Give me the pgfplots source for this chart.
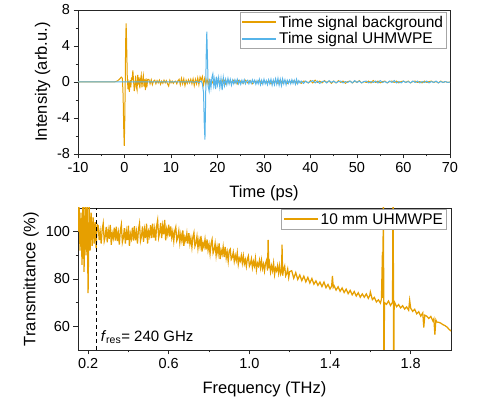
\documentclass[border=0pt]{standalone}
\usepackage{fontspec}
\setmainfont{Liberation Sans}
\usepackage{pgfplots}
\pgfplotsset{compat=1.18}
\definecolor{orng}{HTML}{E69F00}
\definecolor{skyb}{HTML}{56B4E9}
\pgfplotsset{
 mystyle/.style={
  scale only axis,
  axis line style={black!85, line width=0.8pt},
  tick align=outside,
  xtick pos=left, ytick pos=left,
  major tick length=4.5pt, minor tick length=2.5pt,
  tick style={black!85, line width=0.8pt},
  tick label style={font=\fontsize{14.5}{17}\selectfont},
  label style={font=\fontsize{16.5}{19}\selectfont},
  xlabel style={yshift=-6pt},
  legend style={font=\fontsize{15.5}{18}\selectfont, draw=black!35, line width=0.8pt, inner sep=1.5pt, cells={anchor=west}},
  legend image code/.code={\draw[##1,line width=1.7pt] (0pt,0.3pt) -- (34pt,0.3pt);},
  every axis plot/.append style={line width=1pt},
 }
}
\begin{document}
\begin{tikzpicture}
\path[use as bounding box] (0pt,0pt) rectangle (482pt,401pt);
% ---------------- top: time signals
\begin{axis}[mystyle,
  at={(78pt,247pt)}, anchor=south west,
  width=372pt, height=144pt,
  xmin=-10, xmax=70, ymin=-8, ymax=8,
  xtick={-10,0,10,20,30,40,50,60,70},
  xticklabels={-10,0,10,20,30,40,50,60,70},
  minor xtick={-5,5,15,25,35,45,55,65},
  ytick={-8,-4,0,4,8},
  yticklabels={-8,-4,0,4,8},
  minor ytick={-6,-2,2,6},
  xlabel={Time (ps)}, ylabel={Intensity (arb.u.)},
  legend style={at={(rel axis cs:0.992,0.986)}, anchor=north east},
]
\addplot[orng] coordinates {
(-10,0) (-3,0) (-2,0.03) (-1.5,0.12) (-1.0,0.35) (-0.7,0.55) (-0.45,0.4) (-0.3,-1.5) (-0.15,-5.5) (-0.05,-7.1) (0.05,-4.5) (0.15,-0.5) (0.25,4.5) (0.35,6.5) (0.45,4.5) (0.6,0.5) (0.75,-0.8) (0.9,-0.2) (1.05,-1.1) (1.2,0.2) (1.35,-0.6) (1.5,0.4) (1.65,0.3) (1.8,1.3) (1.95,0.1) (2.1,-1.0) (2.25,-0.4) (2.4,0.7) (2.55,-0.5) (2.7,-0.9) (2.85,0.8) (3.0,-0.3) (3.15,0.5) (3.3,-0.7) (3.45,0.3) (3.6,0.75) (3.75,-0.6) (3.9,0.2) (4.05,0.7) (4.2,-0.5) (4.35,0.3) (4.5,-0.9) (4.65,0.4) (4.8,-0.6) (5.0,0.3)
(5.25,0.3) (5.5,-0.2) (5.75,0.25) (6.0,-0.3) (6.25,0.1) (6.5,0.2) (6.75,-0.2) (7.0,0.15) (7.25,-0.1) (7.5,0.2) (7.75,-0.25) (8.0,0.1) (8.25,-0.15) (8.5,0.2) (8.75,-0.1) (9.0,0.15) (9.25,-0.2) (9.5,-0.45) (9.75,0.2) (10.0,-0.1) (10.25,0.1) (10.5,-0.15) (10.75,0.05) (11.0,0.1) (11.25,-0.2) (11.5,0.15) (11.75,0.3) (12.0,-0.3) (12.25,0.4) (12.5,-0.2) (12.75,0.35) (13.0,-0.4) (13.25,0.2) (13.5,-0.15) (13.75,0.25) (14.0,-0.1) (14.25,0.3) (14.5,-0.2) (14.75,0.35) (15.0,-0.4) (15.25,0.3) (15.5,-0.2) (15.75,0.45) (16.0,-0.3) (16.25,0.55) (16.5,0.2) (16.75,0.6) (17.0,-0.3) (17.25,0.4) (17.5,-0.2) (17.75,0.3) (18.0,-0.25) (18.25,0.2) (18.5,-0.3) (18.75,0.15) (19.0,-0.1) (19.25,0.2) (19.5,-0.15) (19.75,0.1) (20.0,-0.2) (20.25,0.15) (20.5,0.05) (20.75,-0.15) (21.0,0.2) (21.25,-0.1) (21.5,0.15) (21.75,-0.2) (22.0,0.1) (22.25,0.2) (22.5,-0.1) (22.75,0.15) (23.0,-0.15) (23.25,0.1) (23.5,0.2) (23.75,-0.1) (24.0,0.1) (24.25,-0.2) (24.5,0.15) (24.75,-0.05) (25.0,0.1)
(25.5,-0.15) (26,0.2) (26.5,-0.1) (27,0.15) (27.5,-0.2) (28,0.1) (28.5,-0.05) (29,0.2) (29.5,-0.15) (30,0.1) (30.5,-0.1) (31,0.15) (31.5,-0.2) (32,0.1) (32.5,0.05) (33,-0.15) (33.5,0.2) (34,-0.1) (34.5,0.15) (35,-0.15) (35.5,0.1) (36,-0.05) (36.5,0.15) (37,-0.1) (37.5,0.1) (38,-0.15) (38.5,0.1) (39,0.05) (39.5,-0.1) (40,0.15) (40.5,-0.1) (41,0.2) (41.5,-0.05) (42,0.1) (42.5,-0.1) (43,0.15) (43.5,-0.05) (44,0.1) (44.5,-0.15) (45,0.1)
(45.5,-0.1) (46,0.15) (46.5,-0.05) (47,0.1) (47.5,-0.15) (48,0.05) (48.5,0.1) (49,-0.1) (49.5,0.1) (50,-0.05) (50.5,0.15) (51,-0.1) (51.5,0.05) (52,-0.05) (52.5,0.1) (53,-0.1) (53.5,0.15) (54,-0.05) (54.5,0.1) (55,-0.1) (55.5,0.05) (56,0.1) (56.5,-0.1) (57,0.05) (57.5,0.1) (58,-0.05) (58.5,0.1) (59,-0.1) (59.5,0.05) (60,0.1) (60.5,-0.05) (61,0.1) (61.5,-0.1) (62,0.05) (62.5,0.1) (63,-0.05) (63.5,0.05) (64,-0.1) (64.5,0.1) (65,-0.05) (65.5,0.05) (66,0.1) (66.5,-0.05) (67,0.05) (67.5,-0.1) (68,0.1) (68.5,-0.05) (69,0.05) (69.5,-0.05) (70,0)
};
\addlegendentry{Time signal background}
\addplot[skyb] coordinates {
(-10,0) (14,0) (14.5,0.02) (15,-0.03) (15.5,0.05) (16,-0.05) (16.5,0.1) (16.75,-0.2) (17.0,-1.2) (17.15,-4.5) (17.3,-6.4) (17.45,-2) (17.55,2.5) (17.7,5.6) (17.85,2.5) (18.0,-0.5) (18.2,-1.0) (18.4,0.3) (18.6,-0.6) (18.8,0.5) (19.0,0.9) (19.2,-0.4) (19.4,0.3) (19.6,-0.8) (19.8,0.6) (20.0,-0.3) (20.25,0.5) (20.5,-0.6) (20.75,0.4) (21.0,-0.9) (21.25,0.5) (21.5,-0.4) (21.75,0.3) (22,-0.3) (22.25,0.4) (22.5,-0.2) (22.75,0.3) (23,-0.35) (23.25,0.2) (23.5,-0.2) (23.75,0.25) (24,-0.15) (24.25,0.3) (24.5,-0.2) (24.75,0.15) (25,-0.25) (25.25,0.2) (25.5,-0.15) (25.75,0.25) (26,-0.2) (26.25,0.1) (26.5,0.2) (26.75,-0.2) (27,0.15) (27.25,-0.15) (27.5,0.25) (27.75,-0.1) (28,0.2) (28.25,-0.25) (28.5,0.15) (28.75,-0.2) (29,0.3) (29.25,-0.3) (29.5,0.2) (29.75,-0.25) (30,0.3) (30.25,-0.2) (30.5,0.15) (30.75,-0.3) (31,0.25) (31.25,-0.2) (31.5,0.3) (31.75,-0.35) (32,0.2) (32.25,-0.3) (32.5,0.35) (32.75,-0.25) (33,0.4) (33.25,-0.35) (33.5,0.3) (33.75,-0.4) (34,0.35) (34.25,-0.2) (34.5,0.25) (34.75,-0.3) (35,0.2) (35.25,-0.15) (35.5,0.2) (35.75,-0.2) (36,0.25) (36.25,-0.15) (36.5,0.2) (36.75,-0.25) (37,0.3) (37.25,-0.2) (37.5,0.15) (37.75,-0.1) (38,0.1) (38.5,-0.15) (39,0.1) (39.5,-0.1) (40,0.05) (40.5,0.15) (41,-0.1) (41.5,0.1) (42,-0.15) (42.5,0.05) (43,0.1) (43.5,-0.1) (44,0.15) (44.5,-0.05) (45,0.1) (45.5,-0.1) (46,0.05) (46.5,0.1) (47,-0.1) (47.5,0.05) (48,-0.05) (48.5,0.1) (49,-0.1) (49.5,0.15) (50,-0.05) (50.5,0.1) (51,-0.1)
(51.5,0.05) (52,0.1) (52.5,-0.1) (53,0.05) (53.5,-0.05) (54,0.1) (54.5,-0.1) (55,0.15) (55.5,-0.05) (56,0.05) (56.5,-0.1) (57,0.1) (57.5,-0.05) (58,0.15) (58.5,-0.1) (59,0.05) (59.5,-0.1) (60,0.1) (60.5,-0.05) (61,0.05) (61.5,-0.1) (62,0.1) (62.5,-0.05) (63,0.1) (63.5,-0.1) (64,0.05) (64.5,-0.05) (65,0.1) (65.5,-0.1) (66,0.05) (66.5,-0.05) (67,0.1) (67.5,-0.1) (68,0.05) (68.5,-0.05) (69,0.05) (69.5,-0.05) (70,0)
};
\addlegendentry{Time signal UHMWPE}
\end{axis}
% ---------------- bottom: transmittance
\begin{axis}[mystyle,
  at={(78pt,51pt)}, anchor=south west,
  width=373pt, height=142pt,
  xmin=0.15, xmax=2.0, ymin=50, ymax=110,
  xtick={0.2,0.6,1.0,1.4,1.8},
  xticklabels={0.2,0.6,1.0,1.4,1.8},
  minor xtick={0.4,0.8,1.2,1.6},
  ytick={60,80,100},
  yticklabels={60,80,100},
  minor ytick={70,90},
  xlabel={Frequency (THz)}, ylabel={Transmittance (\%)},
  legend style={at={(rel axis cs:0.989,0.99)}, anchor=north east},
]
\addplot[orng, line width=1.25pt] coordinates {
(0.150,100) (0.155,112) (0.160,92) (0.165,108) (0.170,86) (0.175,115) (0.180,83) (0.185,112) (0.190,90) (0.195,115) (0.200,74) (0.205,112) (0.210,92) (0.215,108) (0.220,94) (0.225,106) (0.230,95) (0.235,104) (0.240,93) (0.245,103)
(0.250,102.5) (0.255,96.5) (0.260,100) (0.265,95) (0.270,101) (0.275,103.5) (0.280,96) (0.285,98) (0.290,102) (0.295,95.5) (0.300,100.5) (0.305,97) (0.310,102.9) (0.315,94.4) (0.320,99.3) (0.325,97.3) (0.330,101.7) (0.335,96.2)
(0.340,102.1) (0.345,96) (0.350,99.5) (0.355,94.5) (0.360,100.5) (0.365,103) (0.370,95.5) (0.375,97.5) (0.380,101.5) (0.385,95) (0.390,100) (0.395,96.5) (0.400,102.5) (0.405,94) (0.410,99.1) (0.415,97.1) (0.420,101.7) (0.425,96.2)
(0.430,102.3) (0.435,96.3) (0.440,99.9) (0.445,95) (0.450,101) (0.455,103.5) (0.460,96.1) (0.465,98.1) (0.470,102.2) (0.475,95.7) (0.480,100.8) (0.485,97.3) (0.490,103.4) (0.495,95) (0.500,100) (0.505,98.1) (0.510,102.7) (0.515,97.3)
(0.520,103.4) (0.525,97.5) (0.530,101.1) (0.535,96.2) (0.540,102.3) (0.545,104.9) (0.550,97.5) (0.555,99.6) (0.560,103.7) (0.565,97.3) (0.570,102.4) (0.575,98.9) (0.580,105) (0.585,96.3) (0.590,101) (0.595,98.8) (0.600,103)
(0.605,97.9) (0.610,102.2) (0.615,97.5) (0.620,100) (0.625,96) (0.630,100.3) (0.635,102) (0.640,96.2) (0.645,97.5) (0.650,100.3) (0.655,95.3) (0.660,98.9) (0.665,96.2) (0.670,100.5) (0.675,94) (0.680,97.7) (0.685,96.1) (0.690,99.3) (0.695,95)
(0.700,99.4) (0.705,94.8) (0.710,97.3) (0.715,93.4) (0.720,97.8) (0.725,99.6) (0.730,93.8) (0.735,95.2) (0.740,98) (0.745,93) (0.750,96.6) (0.755,93.8) (0.760,98.2) (0.765,91.6) (0.770,95.2) (0.775,93.5) (0.780,96.8) (0.785,92.4)
(0.790,96.7) (0.795,92.1) (0.800,94.6) (0.805,90.6) (0.810,94.9) (0.815,96.7) (0.820,90.9) (0.825,92.2) (0.830,95) (0.835,89.9) (0.840,93.5) (0.845,90.7) (0.850,95) (0.855,88.4) (0.860,92.1) (0.865,90.4) (0.870,93.6) (0.875,89.3)
(0.880,93.6) (0.885,88.9) (0.890,91.4) (0.895,87.5) (0.900,91.8) (0.905,92.6) (0.910,88.3) (0.915,89.2) (0.920,91.3) (0.925,87.5) (0.930,90) (0.935,87.9) (0.940,91.1) (0.945,86.2) (0.950,88.8) (0.955,87.6) (0.960,89.9) (0.965,86.7)
(0.970,89.8) (0.975,86.4) (0.980,88.2) (0.985,85.3) (0.990,88.4) (0.995,89.7) (1.000,85.4) (1.005,86.4) (1.010,88.5) (1.015,84.8) (1.020,87.4) (1.025,85.5) (1.030,88.7) (1.035,83.9) (1.040,86.7) (1.045,85.5) (1.050,87.9) (1.055,84.7)
(1.060,87.9) (1.065,84.4) (1.070,86.3) (1.075,83.4) (1.080,86.6) (1.085,87.9) (1.090,83.6) (1.093,96.5) (1.096,84.5) (1.100,86.7) (1.105,83) (1.110,85.6) (1.115,83.5) (1.120,86.7) (1.125,81.9) (1.130,84.6) (1.135,83.4) (1.140,85.7)
(1.145,82.5) (1.150,85.7) (1.155,82.3) (1.160,84) (1.162,94.5) (1.165,81.4) (1.170,84.3) (1.175,85.5) (1.180,81.3) (1.185,82.3) (1.190,84.2) (1.195,80.6) (1.200,83.1)
(1.21,83.5) (1.22,80.3) (1.23,82.7) (1.24,79.8) (1.25,81.7) (1.26,79.3) (1.27,81.2) (1.28,78.8) (1.29,80.7) (1.30,78.3) (1.31,80.2) (1.32,77.8) (1.33,79.2) (1.34,77.3) (1.35,78.7) (1.36,76.8) (1.37,78.7) (1.38,76.3) (1.39,77.7) (1.40,75.8) (1.408,77) (1.412,81.3) (1.416,76.5) (1.42,77.2) (1.43,75.3) (1.44,76.7) (1.45,74.8) (1.46,76.2) (1.47,74.3) (1.48,75.7) (1.49,73.8) (1.50,75.2)
(1.51,73.3) (1.52,74.7) (1.53,72.8) (1.54,74.2) (1.55,72.3) (1.56,73.7) (1.57,72.3) (1.58,73.7) (1.59,71.8) (1.597,73) (1.600,74.5) (1.61,71.3) (1.62,72.2) (1.63,70.3) (1.64,71.2) (1.65,69.8) (1.655,71.5) (1.660,91.5) (1.662,72) (1.665,130) (1.667,20) (1.670,70) (1.68,69.3) (1.69,70.7) (1.70,68.8) (1.71,70.2) (1.713,130) (1.716,20) (1.718,69.5) (1.72,70.2) (1.73,68.3) (1.74,69.2) (1.75,67.8) (1.76,68.7) (1.77,67.3) (1.78,68.2) (1.79,66.8) (1.795,71) (1.80,67.7)
(1.81,66.3) (1.82,67.2) (1.83,65.3) (1.84,66.2) (1.85,64.3) (1.86,65.7) (1.865,59.5) (1.87,64.7) (1.88,64.3) (1.89,63.3) (1.90,64.2) (1.91,62.3) (1.915,63.2) (1.92,56.5) (1.925,62.7) (1.93,61.8) (1.94,61.7) (1.95,61.3) (1.96,60.7) (1.97,60.3) (1.98,59.7) (1.99,58.8) (2.00,58)
};
\addlegendentry{10 mm UHMWPE}
\addplot[black, line width=0.8pt, dash pattern=on 4pt off 3pt, forget plot] coordinates {(0.24,50) (0.24,110)};
\node[anchor=base west, font=\fontsize{15}{18}\selectfont, inner sep=0pt] at (axis cs:0.262,53.7) {\textit{f}\textsubscript{res}= 240 GHz};
\end{axis}
\end{tikzpicture}
\end{document}
